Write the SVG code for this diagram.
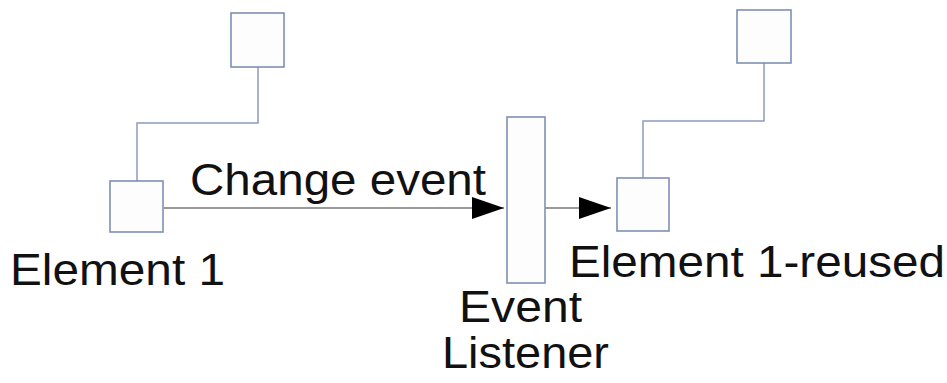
<svg xmlns="http://www.w3.org/2000/svg" width="947" height="383" viewBox="0 0 947 383">
<defs>
<style>
.box{fill:#fdfdfe;stroke:#7d90b3;stroke-width:1.6}
.link{fill:none;stroke:#8c9cbc;stroke-width:1.5}
.arrow{fill:none;stroke:#9a9a9a;stroke-width:2}
.lbl{font-family:"Liberation Sans",Arial,sans-serif;font-size:44px;fill:#111}
</style>
<marker id="ah" markerWidth="32" markerHeight="22" refX="32" refY="11" orient="auto" markerUnits="userSpaceOnUse">
<path d="M0,0 L32,11 L0,22 Z" fill="#000"/>
</marker>
</defs>
<rect width="947" height="383" fill="#fff"/>
<g id="connectors">
<path class="link" d="M258,67 V123 H137 V181"/>
<path class="link" d="M764,63 V121 H643 V178"/>
<line class="arrow" x1="164" y1="208" x2="504" y2="208" marker-end="url(#ah)"/>
<line class="arrow" x1="545" y1="208" x2="611" y2="208" marker-end="url(#ah)"/>
</g>
<g id="top-left"><rect class="box" x="231" y="13" width="53" height="54"/></g>
<g id="top-right"><rect class="box" x="737" y="10" width="54" height="53"/></g>
<g id="element1">
<rect class="box" x="110" y="181" width="53" height="51"/>
<text class="lbl" x="10" y="285" textLength="215" lengthAdjust="spacingAndGlyphs">Element 1</text>
</g>
<g id="listener">
<rect class="box" x="507" y="117" width="38" height="166"/>
<text class="lbl" x="459" y="322" textLength="123" lengthAdjust="spacingAndGlyphs">Event</text>
<text class="lbl" x="442" y="368" textLength="167" lengthAdjust="spacingAndGlyphs">Listener</text>
</g>
<g id="element1-reused">
<rect class="box" x="617" y="178" width="52" height="53"/>
<text class="lbl" x="569" y="277" textLength="376" lengthAdjust="spacingAndGlyphs">Element 1-reused</text>
</g>
<g id="edge-label">
<text class="lbl" x="190" y="195" textLength="296" lengthAdjust="spacingAndGlyphs">Change event</text>
</g>
</svg>
